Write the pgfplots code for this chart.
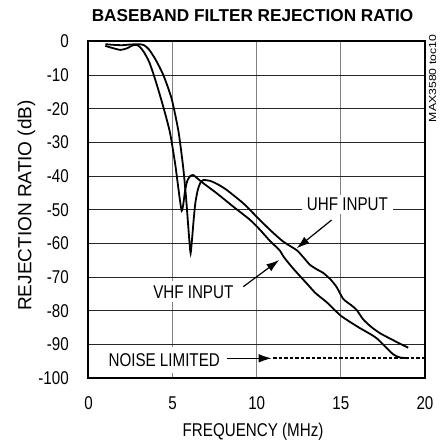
\documentclass[border=0pt]{standalone}
\usepackage{fontspec}
\setmainfont{Liberation Sans}
\usepackage{graphicx}
\usepackage{pgfplots}
\pgfplotsset{compat=1.18}
\usetikzlibrary{arrows.meta}
\newcommand{\nar}[1]{\scalebox{0.82}[1]{#1}}

\begin{document}
\begin{tikzpicture}
\path[use as bounding box] (-88.5pt,-65pt) rectangle (359.5pt,378pt);
\begin{axis}[
  at={(0pt,0pt)}, anchor=south west,
  scale only axis, width=336.5pt, height=336.5pt,
  xmin=0, xmax=20, ymin=-100, ymax=0,
  xtick={0,5,10,15,20},
  ytick={-100,-90,-80,-70,-60,-50,-40,-30,-20,-10,0},
  /pgf/number format/assume math mode=true,
  xticklabel={\nar{\pgfmathprintnumber{\tick}}},
  yticklabel={\nar{\pgfmathprintnumber{\tick}}},
  major tick length=0pt,
  tick style={draw=none},
  grid=major,
  x grid style={draw=black!50, line width=1.2pt},
  y grid style={draw=black!85, line width=1pt},
  axis line style={line width=2pt},
  xticklabel style={font=\fontsize{18.5}{18.5}\selectfont, anchor=base, inner sep=0pt, yshift=-32pt},
  yticklabel style={font=\fontsize{18.5}{18.5}\selectfont, anchor=east, inner sep=0pt, xshift=-19.5pt},
  xlabel={\nar{FREQUENCY (MHz)}},
  xlabel style={at={(axis description cs:0.489,-0.1724)}, anchor=base, inner sep=0pt, font=\fontsize{18.5}{18.5}\selectfont},
  ylabel={REJECTION RATIO (dB)},
  ylabel style={at={(axis description cs:-0.1694,0.5126)}, anchor=base, inner sep=0pt, font=\fontsize{19}{19}\selectfont},
  every axis title shift=0pt,
  title={BASEBAND FILTER REJECTION RATIO},
  title style={at={(axis description cs:0.4874,1.0588)}, anchor=base, inner sep=0pt, font=\bfseries\fontsize{17.2}{17.2}\selectfont},
  clip=false,
]
% VHF input
\addplot[black, line width=1.8pt, smooth, tension=0.4] coordinates {
(1.0,-1.3) (1.4,-1.9) (1.9,-2.5) (2.3,-2.0) (2.6,-1.2) (2.85,-1.0) (3.05,-1.6)
(3.3,-3.2) (3.6,-6.0) (3.85,-9.5) (4.1,-13.5) (4.45,-19.5) (4.84,-27.0)
(5.14,-36.0) (5.3,-42.0) (5.43,-47.0) (5.54,-50.3) (5.63,-48.5) (5.75,-44.0)
(5.88,-41.3) (6.05,-40.0) (6.23,-39.7) (6.5,-40.8) (6.82,-42.1) (7.62,-45.1)
(8.61,-49.1) (9.6,-53.0) (10.2,-56.0) (10.79,-59.3) (11.15,-61.0) (11.4,-62.3)
(11.6,-64.0) (12.17,-67.5) (12.97,-71.9) (13.5,-74.8) (14.16,-77.5)
(14.95,-81.3) (15.5,-83.2) (16.14,-85.2) (16.7,-86.8) (17.13,-88.2)
(17.6,-90.5) (18.12,-93.0) (18.51,-93.9) (19.0,-94.1)
};
% UHF input
\addplot[black, line width=1.8pt, smooth, tension=0.4] coordinates {
(1.0,-0.8) (1.5,-1.0) (2.0,-1.1) (2.5,-0.9) (3.0,-0.8) (3.3,-1.1) (3.6,-2.4)
(4.0,-5.5) (4.45,-10.0) (4.94,-17.0) (5.34,-26.5) (5.6,-36.2) (5.7,-41.0)
(5.8,-46.5) (5.9,-53.0) (6.0,-59.5) (6.07,-62.9) (6.15,-59.0) (6.25,-53.0)
(6.35,-48.0) (6.5,-44.0) (6.65,-42.0) (6.82,-41.2) (7.22,-41.4) (7.7,-42.5)
(8.21,-44.1) (9.2,-48.1) (10.0,-52.1) (10.79,-56.0) (11.58,-59.5) (12.37,-62.0)
(12.8,-64.3) (13.17,-66.4) (13.6,-67.8) (13.96,-68.8) (14.4,-70.8) (14.75,-73.0)
(15.14,-76.5) (15.6,-78.3) (15.94,-79.8) (16.33,-82.6) (16.8,-84.8)
(17.33,-86.7) (18.12,-88.8) (19.0,-91.0)
};
% noise limit
\addplot[black, line width=2pt, dash pattern=on 3.5pt off 2pt] coordinates {(10.97,-94.15) (20,-94.15)};

\node[fill=white, inner xsep=5pt, inner ysep=3pt, font=\fontsize{18.5}{18.5}\selectfont] at (axis cs:15.39,-48.4) {\nar{UHF INPUT}};
\node[fill=white, inner xsep=4pt, inner ysep=4pt, font=\fontsize{18.5}{18.5}\selectfont] at (axis cs:6.23,-74.4) {\nar{VHF INPUT}};
\node[fill=white, inner xsep=3pt, inner ysep=6pt, font=\fontsize{18.5}{18.5}\selectfont] at (axis cs:4.5,-94.65) {\nar{NOISE LIMITED}};
\draw[line width=1.2pt, -{Latex[length=13pt,width=8.5pt]}] (axis cs:14.45,-53.05) -- (axis cs:12.37,-61.46);
\draw[line width=1.2pt, -{Latex[length=13pt,width=8.5pt]}] (axis cs:9.2,-72.87) -- (axis cs:11.34,-64.93);
\draw[line width=1.2pt, -{Latex[length=13pt,width=8.5pt]}] (axis cs:8.21,-94.15) -- (axis cs:10.89,-94.15);
\node[rotate=90, anchor=base, inner sep=0pt, font=\fontsize{10.2}{10.2}\selectfont] at (axis description cs:1.0327,0.890) {\scalebox{1.2}[1]{MAX3580 toc10}};
\end{axis}
\end{tikzpicture}
\end{document}
